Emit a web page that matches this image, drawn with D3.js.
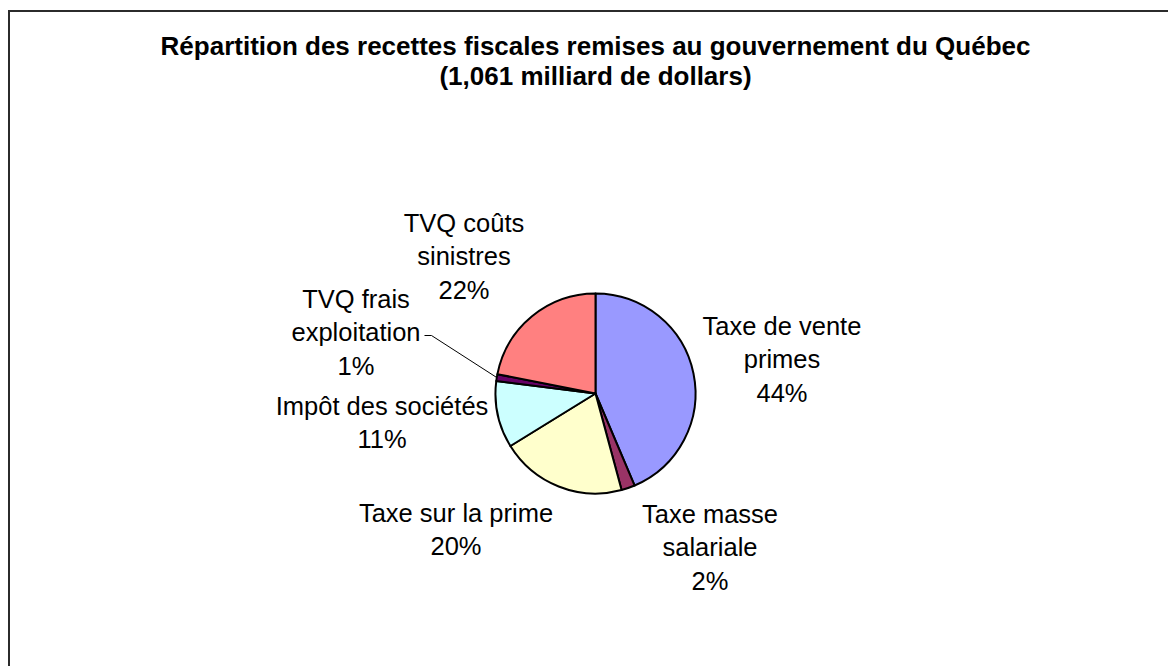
<!DOCTYPE html>
<html>
<head>
<meta charset="utf-8">
<script src="https://cdn.jsdelivr.net/npm/d3@7"></script>
<style>
  body { margin: 0; background: #fff; }
  text { font-family: "Liberation Sans", Arial, sans-serif; fill: #000; }
</style>
</head>
<body>
<div id="chart"></div>
<script>
      var w = 1168;
      var h = 666;

      // data (share of total, %)
      var categories = [
        ["Taxe de vente", "primes"],
        ["Taxe masse", "salariale"],
        ["Taxe sur la prime"],
        ["Impôt des sociétés"],
        ["TVQ frais", "exploitation"],
        ["TVQ coûts", "sinistres"]
      ];
      var shares = [43.6, 2.2, 20.4, 10.8, 1.1, 21.9];
      var colors = ["#9999FF", "#993366", "#FFFFCC", "#CCFFFF", "#660066", "#FF8080"];
      var titleLines = ["Répartition des recettes fiscales remises au gouvernement du Québec",
                        "(1,061 milliard de dollars)"];

      var dataset = shares.map(function(v, i) {
        return {name: categories[i], value: v, color: colors[i]};
      });
      var total = d3.sum(shares);

      var cx = 595.5, cy = 393.5, r = 100;

      var svg = d3.select("#chart")
            .append("svg")
            .attr("width", w)
            .attr("height", h);

      svg.append("rect")
        .attr("x", 0).attr("y", 0)
        .attr("width", w).attr("height", h)
        .attr("fill", "#fff");

      // chart area border (right/bottom run off the page)
      svg.append("rect")
        .attr("x", 9).attr("y", 11)
        .attr("width", w + 20).attr("height", h + 20)
        .attr("fill", "none")
        .attr("stroke", "#2b2b2b")
        .attr("stroke-width", 2);

      // title
      svg.selectAll(".title")
        .data(titleLines)
        .enter().append("text")
        .attr("class", "title")
        .attr("x", cx)
        .attr("y", function(d, i) { return 55 + i * 30; })
        .attr("text-anchor", "middle")
        .style("font-weight", "bold")
        .style("font-size", "26px")
        .text(function(d) { return d; });

      var pie = d3.pie()
        .sort(null)
        .value(function(d) { return d.value; });

      var arc = d3.arc().innerRadius(0).outerRadius(r);
      var arcs = pie(dataset);

      var g = svg.append("g")
        .attr("transform", "translate(" + cx + "," + cy + ")");

      g.selectAll("path")
        .data(arcs)
        .enter().append("path")
        .attr("d", arc)
        .style("fill", function(d) { return d.data.color; })
        .style("stroke", "#000")
        .style("stroke-width", 2)
        .style("stroke-linejoin", "round");

      // label anchors: centre x and first baseline, relative to pie centre
      var labelAt = [[186.5, -58.5], [114.5, 129.5], [-139.5, 128.5], [-213.5, 21.5], [-239.5, -85.5], [-131.5, -161.5]];
      var lineH = 33.3;
      var fmt = d3.format(".0%");

      var labels = g.selectAll(".label")
        .data(arcs)
        .enter().append("text")
        .attr("class", "label")
        .attr("text-anchor", "middle")
        .style("font-size", "25.5px");

      labels.each(function(d, i) {
        var t = d3.select(this);
        var lines = d.data.name.concat([fmt(d.data.value / total)]);
        lines.forEach(function(s, k) {
          t.append("tspan")
            .attr("x", labelAt[i][0])
            .attr("y", labelAt[i][1] + k * lineH)
            .text(s);
        });
      });

      // leader line for the small "TVQ frais exploitation" slice
      var frais = arcs[4];
      var mid = (frais.startAngle + frais.endAngle) / 2;
      var ex = Math.sin(mid) * r, ey = -Math.cos(mid) * r;
      g.append("polyline")
        .attr("points", [[-171, -58], [-164, -58], [ex, ey]].map(function(p) { return p.join(","); }).join(" "))
        .attr("fill", "none")
        .attr("stroke", "#000")
        .attr("stroke-width", 1);
</script>
</body>
</html>
